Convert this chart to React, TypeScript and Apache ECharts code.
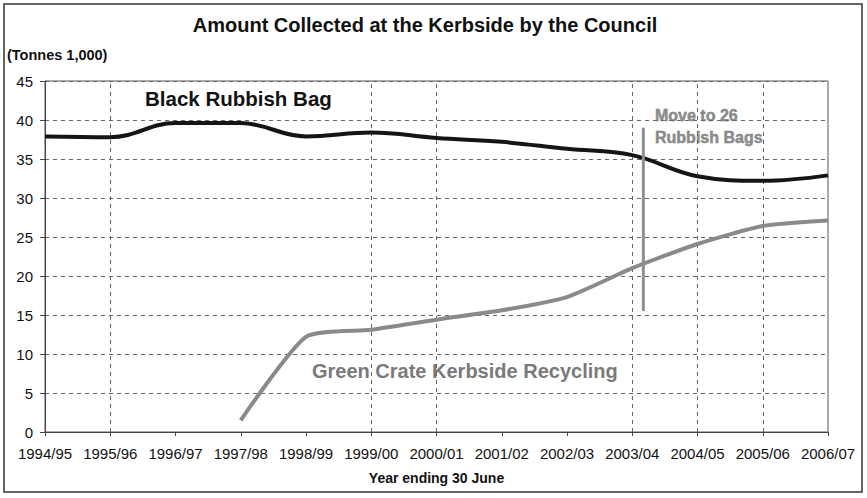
import React, { useEffect, useRef } from "react";
import * as echarts from "echarts";

const categories = ["1994/95", "1995/96", "1996/97", "1997/98", "1998/99", "1999/00", "2000/01", "2001/02", "2002/03", "2003/04", "2004/05", "2005/06", "2006/07"];
const blackBag = [37.9, 37.8, 39.6, 39.6, 37.9, 38.4, 37.7, 37.2, 36.3, 35.5, 32.8, 32.2, 32.9];
const greenCrate = [null, null, null, 1.5, 12.2, 13.1, 14.4, 15.6, 17.3, 21.0, 24.1, 26.4, 27.1];
const yTicks = [0, 5, 10, 15, 20, 25, 30, 35, 40, 45];
const gridCategories = ["1995/96", "1999/00", "2000/01", "2003/04", "2004/05", "2005/06"];
const moveLine = [[9.17, 39.0], [9.17, 15.5]];

const FONT = "'Liberation Sans', Arial, sans-serif";

export default function App() {
  const ref = useRef<HTMLDivElement>(null);
  useEffect(() => {
    const chart = echarts.init(ref.current!, null, { renderer: "svg" });
    chart.setOption({
      animation: false,
      backgroundColor: "#fff",
      grid: { left: 45, right: 39, top: 81, bottom: 66, show: true, borderColor: "#555", borderWidth: 1, backgroundColor: "transparent" },
      xAxis: [
        {
          type: "category",
          data: categories,
          boundaryGap: false,
          name: "Year ending 30 June",
          nameLocation: "middle",
          nameGap: 39,
          nameTextStyle: { fontFamily: FONT, fontWeight: "bold", fontSize: 14, color: "#111" },
          axisLine: { lineStyle: { color: "#444", width: 1 } },
          axisTick: { show: true, length: 4, lineStyle: { color: "#444" } },
          axisLabel: { fontFamily: FONT, fontSize: 15, color: "#111", margin: 14, interval: 0 },
          splitLine: { show: false },
        },
        { type: "value", min: 0, max: 12, show: false, splitLine: { show: false } },
      ],
      yAxis: {
        type: "value",
        min: yTicks[0],
        max: yTicks[yTicks.length - 1],
        interval: 5,
        axisLine: { show: true, lineStyle: { color: "#444" } },
        axisTick: { show: true, length: 5, lineStyle: { color: "#444" } },
        axisLabel: { fontFamily: FONT, fontSize: 15, color: "#111", margin: 12 },
        splitLine: { show: true, lineStyle: { color: "#666", type: [4, 4], width: 1 } },
      },
      series: [
        {
          name: "Black Rubbish Bag",
          type: "line",
          data: blackBag,
          smooth: 0.4,
          showSymbol: false,
          lineStyle: { color: "#151515", width: 4 },
          z: 3,
          markLine: {
            silent: true,
            symbol: "none",
            label: { show: false },
            lineStyle: { color: "#666", type: [4, 4], width: 1 },
            data: gridCategories.map((c) => ({ xAxis: c })),
            z: 1,
          },
        },
        {
          name: "Green Crate Kerbside Recycling",
          type: "line",
          data: greenCrate,
          smooth: 0.2,
          showSymbol: false,
          connectNulls: false,
          lineStyle: { color: "#8a8a8a", width: 4 },
          z: 2,
        },
        {
          name: "Move",
          type: "line",
          xAxisIndex: 1,
          data: moveLine,
          showSymbol: false,
          lineStyle: { color: "#8f8f8f", width: 3 },
          z: 4,
        },
      ],
      graphic: [
        { type: "rect", shape: { x: 4, y: 4, width: 858, height: 488 }, style: { fill: "none", stroke: "#333", lineWidth: 1.5 }, silent: true },
        { type: "text", x: 425, y: 25, style: { text: "Amount Collected at the Kerbside by the Council", fontFamily: FONT, fontWeight: "bold", fontSize: 20, fill: "#111", align: "center", verticalAlign: "middle" } },
        { type: "text", x: 7, y: 55, style: { text: "(Tonnes 1,000)", fontFamily: FONT, fontWeight: "bold", fontSize: 14.5, fill: "#111", align: "left", verticalAlign: "middle" } },
        { type: "text", x: 145, y: 98, style: { text: "Black Rubbish Bag", fontFamily: FONT, fontWeight: "bold", fontSize: 20.5, fill: "#111", align: "left", verticalAlign: "middle" } },
        { type: "text", x: 312, y: 371, style: { text: "Green Crate Kerbside Recycling", fontFamily: FONT, fontWeight: "bold", fontSize: 20, fill: "#7a7a7a", align: "left", verticalAlign: "middle" } },
        { type: "text", x: 655, y: 115, style: { text: "Move to 26", fontFamily: FONT, fontWeight: "bold", fontSize: 16, fill: "#8a8a8a", stroke: "#6a6a6a", lineWidth: 0.4, align: "left", verticalAlign: "middle" } },
        { type: "text", x: 655, y: 137, style: { text: "Rubbish Bags", fontFamily: FONT, fontWeight: "bold", fontSize: 16, fill: "#8a8a8a", stroke: "#6a6a6a", lineWidth: 0.4, align: "left", verticalAlign: "middle" } },
      ],
    });
    return () => chart.dispose();
  }, []);
  return <div ref={ref} style={{ width: 867, height: 498, position: "absolute", left: 0, top: 0 }} />;
}
